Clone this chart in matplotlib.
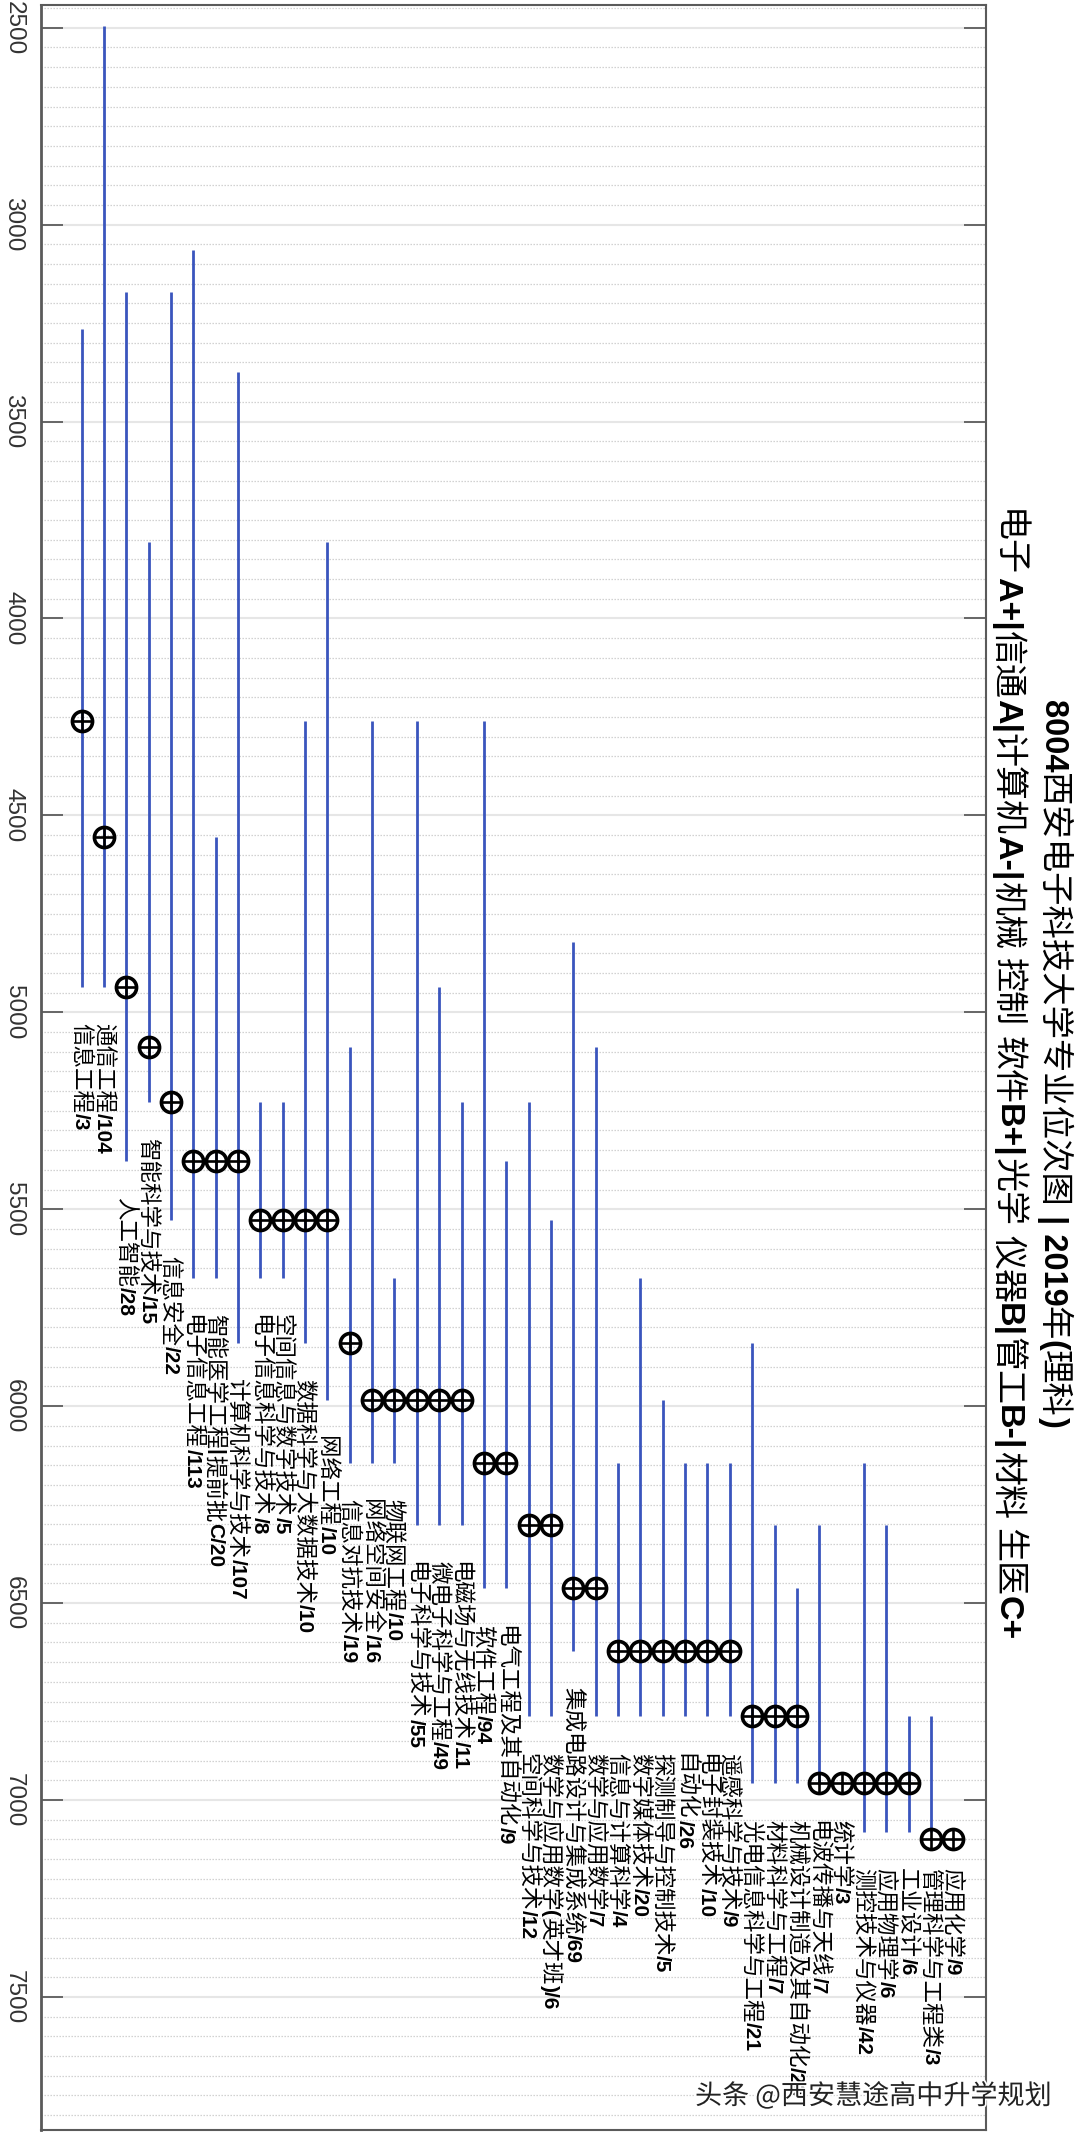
import re
import matplotlib
matplotlib.use("Agg")
import matplotlib.pyplot as plt
import matplotlib.patheffects as pe
from matplotlib.ticker import MultipleLocator
import numpy as np

majors = ["信息工程/3", "通信工程/104", "人工智能/28", "智能科学与技术/15", "信息安全/22",
          "电子信息工程/113", "智能医学工程|提前批C/20", "计算机科学与技术/107", "电子信息科学与技术/8",
          "空间信息与数字技术/5", "数据科学与大数据技术/10", "网络工程/10", "信息对抗技术/19",
          "网络空间安全/16", "物联网工程/10", "电子科学与技术/55", "微电子科学与工程/49",
          "电磁场与无线技术/11", "软件工程/94", "电气工程及其自动化/9", "空间科学与技术/12",
          "数学与应用数学(英才班)/6", "集成电路设计与集成系统/69", "数学与应用数学/7", "信息与计算科学/4",
          "数字媒体技术/20", "探测制导与控制技术/5", "自动化/26", "电子封装技术/10", "遥感科学与技术/9",
          "光电信息科学与工程/21", "材料科学与工程/7", "机械设计制造及其自动化/23", "电波传播与天线/7",
          "统计学/3", "测控技术与仪器/42", "应用物理学/6", "工业设计/6", "管理科学与工程类/3", "应用化学/9"]

rank_mid = [4260, 4556, 4936, 5088, 5227, 5378, 5378, 5378, 5527, 5527,
            5527, 5527, 5840, 5984, 5984, 5984, 5984, 5984, 6144, 6144,
            6302, 6302, 6463, 6463, 6621, 6621, 6621, 6621, 6621, 6621,
            6788, 6788, 6788, 6958, 6958, 6958, 6958, 6958, 7100, 7100]
rank_high = [3266, 2495, 3171, 3807, 3171, 3064, 4556, 3373, 5227, 5227,
             4260, 3807, 5088, 4260, 5675, 4260, 4936, 5227, 4260, 5378,
             5227, 5528, 4821, 5088, 6144, 5675, 5984, 6144, 6144, 6144,
             5840, 6302, 6463, 6302, 6958, 6144, 6302, 6788, 6788, 7082]
rank_low = [4936, 4936, 5378, 5227, 5527, 5675, 5675, 5840, 5675, 5675,
            5840, 5984, 6144, 6144, 6144, 6302, 6302, 6302, 6463, 6463,
            6788, 6788, 6621, 6788, 6788, 6788, 6788, 6788, 6788, 6788,
            6958, 6958, 6958, 6958, 6958, 7082, 7082, 7082, 7082, 7082]

title_1 = "8004西安电子科技大学专业位次图 | 2019年(理科)"
title_2 = "电子A+|信通A|计算机A-|机械 控制 软件B+|光学 仪器B|管工B-|材料 生医C+"
watermark = "头条 @西安慧途高中升学规划"
y_ticks = [2500, 3000, 3500, 4000, 4500, 5000, 5500, 6000, 6500, 7000, 7500]

W, H = 1080, 2133
DPI = 100
CJK = "Noto Sans CJK SC"
LAT = "Liberation Sans"
fig = plt.figure(figsize=(W / DPI, H / DPI), dpi=DPI, facecolor="white")
ax = fig.add_axes([40.6 / W, 1 - 2130 / H, (986 - 40.6) / W, (2130 - 4.5) / H])
ax.set_xlim(-0.83, 41.46)
ax.set_ylim(7838, 2441)

ax.set_axisbelow(True)
ax.yaxis.set_minor_locator(MultipleLocator(50))
ax.grid(True, which="major", axis="y", color="#e6e6e6", lw=1.5)
ax.grid(True, which="minor", axis="y", color="#cccccc", lw=0.9, ls=(0, (1.1, 1.3)))
ax.set_xticks([])
ax.set_yticks(y_ticks)
ax.set_yticklabels([str(v) for v in y_ticks], rotation=-90, va="center", ha="center",
                   family=LAT, fontsize=17.5, color="#333333")
ax.tick_params(axis="y", which="major", direction="in", length=15.5, width=1.1, color="#444444",
               left=True, right=True, pad=19.5)
ax.tick_params(axis="y", which="minor", length=0)
for name, sp in ax.spines.items():
    sp.set_color("#5a5a5a")
    sp.set_linewidth(2.0 if name == "left" else 1.5)

cols = np.arange(1, len(majors) + 1)
ax.vlines(cols, rank_high, rank_low, color="#3a55bd", lw=2.0, zorder=3)
ax.plot(cols, rank_mid, ls="none", marker="o", ms=14.5, mfc="none", mec="black", mew=2.6, zorder=4)
ax.plot(cols, rank_mid, ls="none", marker="+", ms=15, mec="black", mew=1.9, zorder=4)

renderer = fig.canvas.get_renderer()
SPLIT = re.compile(r"([\u4e00-\u9fff]+)")


def chain(s, xy, xycoords, cjk_size, lat_size, center=False):
    """Draw one downward-reading string: Chinese runs light, Latin runs bold."""
    arts = []
    for seg in [p for p in SPLIT.split(s) if p]:
        is_cjk = bool(SPLIT.fullmatch(seg))
        kw = dict(family=CJK, fontsize=cjk_size) if is_cjk else dict(family=LAT, fontsize=lat_size, weight="bold")
        arts.append(ax.annotate(seg, xy=xy, xycoords=xycoords, xytext=(0, 0), textcoords="offset points",
                                rotation=-90, ha="center", va="top", color="black",
                                annotation_clip=False, zorder=5, **kw))
    lens = [a.get_window_extent(renderer).height * 72 / DPI for a in arts]
    off = -sum(lens) / 2 if center else 0
    for a, ln in zip(arts, lens):
        a.xyann = (0, -off)
        off += ln


for c, name, low in zip(cols, majors, rank_low):
    chain(name, (c - 0.05, low + 92), "data", 16.2, 15)

chain(title_1, (1.0708, 0.5015), "axes fraction", 24, 23.5, center=True)
chain(title_2, (1.0222, 0.4964), "axes fraction", 24.5, 24.5, center=True)

fig.text(695 / W, 1 - 2096 / H, watermark, family=CJK, fontsize=19.5, color="#222222", va="center", ha="left",
         zorder=10, path_effects=[pe.withStroke(linewidth=2.5, foreground="white")])

fig.savefig("out.png", dpi=DPI)
